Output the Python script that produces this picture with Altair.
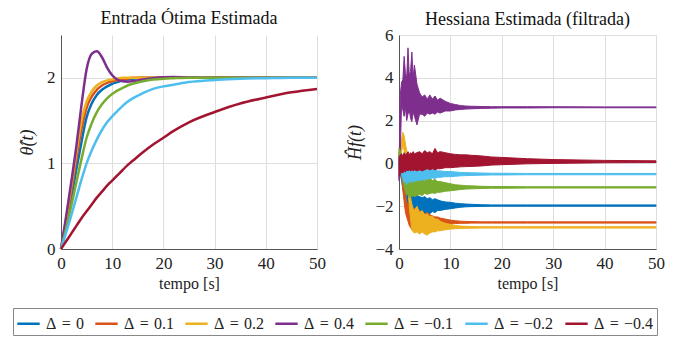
import altair as alt
import pandas as pd

# ---------------- data ----------------
SP = "\u2004"
labels = [f"Δ{SP}={SP}0", f"Δ{SP}={SP}0.1", f"Δ{SP}={SP}0.2", f"Δ{SP}={SP}0.4",
          f"Δ{SP}={SP}−0.1", f"Δ{SP}={SP}−0.2", f"Δ{SP}={SP}−0.4"]
colors = ["#0072BD", "#D95319", "#EDB120", "#7E2F8E", "#77AC30", "#4DBEEE", "#A2142F"]

# Left panel: estimated optimal input
t_left = [0, 1, 2, 3, 4, 5, 6, 7, 8, 9, 10, 11, 12, 13, 14, 16, 18, 20, 22, 25, 30, 35, 40, 45, 50]
theta_d0 = [0, 0.28, 0.60, 0.93, 1.25, 1.54, 1.70, 1.80, 1.86, 1.90, 1.93, 1.95, 1.97, 1.98, 1.99, 2.0, 2.0, 2.0, 2.0, 2.0, 2.0, 2.0, 2.0, 2.0, 2.0]
theta_d01 = [0, 0.32, 0.68, 1.05, 1.40, 1.65, 1.78, 1.86, 1.91, 1.94, 1.96, 1.97, 1.98, 1.99, 2.0, 2.0, 2.0, 2.0, 2.0, 2.0, 2.0, 2.0, 2.0, 2.0, 2.0]
theta_d02 = [0, 0.35, 0.74, 1.13, 1.50, 1.72, 1.84, 1.91, 1.95, 1.97, 1.98, 1.99, 2.0, 2.0, 2.0, 2.0, 2.0, 2.0, 2.0, 2.0, 2.0, 2.0, 2.0, 2.0, 2.0]
theta_d04 = [0, 0.38, 0.78, 1.20, 1.68, 2.10, 2.28, 2.31, 2.24, 2.12, 2.03, 1.98, 1.96, 1.955, 1.96, 1.98, 1.995, 2.005, 2.008, 2.003, 2.0, 2.0, 2.0, 2.0, 2.0]
theta_dm01 = [0, 0.24, 0.50, 0.78, 1.05, 1.30, 1.47, 1.60, 1.69, 1.76, 1.81, 1.85, 1.88, 1.91, 1.93, 1.96, 1.98, 1.99, 1.995, 2.0, 2.0, 2.0, 2.0, 2.0, 2.0]
theta_dm02 = [0, 0.19, 0.39, 0.60, 0.81, 1.00, 1.15, 1.28, 1.39, 1.48, 1.55, 1.61, 1.67, 1.72, 1.76, 1.82, 1.87, 1.90, 1.92, 1.95, 1.975, 1.99, 1.995, 2.0, 2.0]
theta_dm04 = [0, 0.09, 0.18, 0.27, 0.36, 0.44, 0.52, 0.60, 0.67, 0.74, 0.80, 0.86, 0.92, 0.98, 1.03, 1.13, 1.22, 1.30, 1.38, 1.48, 1.60, 1.70, 1.77, 1.83, 1.87]

# Right panel: filtered Hessian estimate, oscillation envelope (low / high)
t_right = [0, 0.25, 0.5, 0.75, 1, 1.25, 1.5, 1.75, 2, 2.25, 2.5, 2.75, 3, 3.5, 4, 4.5, 5, 5.5,
           6, 6.5, 7, 7.5, 8, 9, 10, 11, 12, 13, 14, 16, 18, 20, 25, 30, 40, 50]
h_d0_hi = [0.2, 0.0, -0.3, -0.6, -0.8, -1.0, -1.2, -1.3, -1.4, -1.5, -1.4, -1.55, -1.45, -1.5, -1.55, -1.6, -1.55, -1.65,
           -1.6, -1.7, -1.65, -1.7, -1.75, -1.8, -1.82, -1.86, -1.88, -1.9, -1.91, -1.93, -1.94, -1.94, -1.94, -1.94, -1.94, -1.94]
h_d0_lo = [-0.2, -0.5, -0.8, -1.2, -1.6, -1.9, -2.1, -2.2, -2.4, -2.3, -2.45, -2.35, -2.4, -2.35, -2.4, -2.3, -2.35, -2.3,
           -2.35, -2.25, -2.3, -2.2, -2.2, -2.15, -2.12, -2.08, -2.05, -2.03, -2.02, -2.01, -2.0, -2.0, -2.0, -2.0, -2.0, -2.0]
h_d01_hi = [0.5, 0.6, 0.3, -0.2, -0.8, -1.4, -1.8, -1.9, -2.0, -2.1, -2.05, -2.2, -2.1, -2.25, -2.2, -2.3, -2.35, -2.3,
            -2.4, -2.45, -2.5, -2.5, -2.55, -2.6, -2.65, -2.68, -2.7, -2.71, -2.72, -2.73, -2.73, -2.73, -2.73, -2.73, -2.73, -2.73]
h_d01_lo = [0.0, -0.2, -0.6, -1.2, -1.8, -2.3, -2.5, -2.7, -2.9, -3.0, -3.1, -3.0, -3.15, -3.05, -3.1, -3.0, -3.05, -3.0,
            -3.0, -2.95, -2.95, -2.9, -2.9, -2.85, -2.83, -2.81, -2.8, -2.8, -2.79, -2.79, -2.79, -2.79, -2.79, -2.79, -2.79, -2.79]
h_d02_hi = [0.3, 0.6, 1.1, 1.45, 1.3, 0.9, 0.6, -0.3, -1.0, -1.6, -1.9, -2.1, -2.2, -2.0, -2.3, -2.2, -2.4, -2.35,
            -2.5, -2.45, -2.6, -2.6, -2.7, -2.8, -2.85, -2.9, -2.93, -2.94, -2.95, -2.96, -2.96, -2.96, -2.96, -2.96, -2.96, -2.96]
h_d02_lo = [0.0, 0.2, 0.5, 0.9, 0.6, 0.2, -0.5, -1.2, -2.0, -2.6, -3.1, -3.2, -3.25, -3.2, -3.3, -3.2, -3.3, -3.35,
            -3.25, -3.2, -3.2, -3.15, -3.15, -3.1, -3.07, -3.05, -3.04, -3.03, -3.03, -3.02, -3.02, -3.02, -3.02, -3.02, -3.02, -3.02]
h_d04_hi = [-0.3, 3.2, 3.8, 3.9, 5.0, 4.2, 4.0, 5.4, 4.1, 4.3, 5.2, 4.0, 4.6, 3.7, 3.3, 3.1, 3.2, 3.0,
            3.2, 3.0, 3.15, 2.95, 3.05, 2.9, 2.8, 2.75, 2.7, 2.68, 2.67, 2.66, 2.65, 2.65, 2.65, 2.65, 2.64, 2.64]
h_d04_lo = [-0.8, 0.5, 2.8, 2.5, 2.2, 2.6, 2.0, 2.3, 2.5, 2.1, 1.95, 2.4, 2.2, 1.8, 2.3, 2.3, 2.2, 2.35,
            2.3, 2.35, 2.3, 2.4, 2.35, 2.45, 2.45, 2.5, 2.52, 2.54, 2.55, 2.57, 2.58, 2.59, 2.59, 2.6, 2.6, 2.6]
h_dm01_hi = [0.7, 0.6, 0.3, 0.0, -0.3, -0.5, -0.4, -0.6, -0.5, -0.6, -0.55, -0.65, -0.55, -0.7, -0.6, -0.7, -0.65, -0.75,
             -0.7, -0.8, -0.75, -0.85, -0.85, -0.9, -0.95, -1.0, -1.02, -1.04, -1.05, -1.07, -1.08, -1.08, -1.09, -1.09, -1.09, -1.09]
h_dm01_lo = [0.3, 0.0, -0.4, -0.8, -1.1, -1.3, -1.5, -1.4, -1.6, -1.5, -1.55, -1.5, -1.55, -1.5, -1.45, -1.5, -1.4, -1.45,
             -1.4, -1.38, -1.4, -1.35, -1.35, -1.3, -1.28, -1.25, -1.22, -1.2, -1.19, -1.17, -1.16, -1.16, -1.15, -1.15, -1.15, -1.15]
h_dm02_hi = [0.3, 0.4, 0.3, 0.1, 0.0, -0.1, 0.0, -0.15, -0.1, -0.2, -0.1, -0.2, -0.15, -0.2, -0.2, -0.25, -0.2, -0.3,
             -0.25, -0.3, -0.3, -0.35, -0.35, -0.38, -0.38, -0.4, -0.42, -0.43, -0.44, -0.45, -0.46, -0.46, -0.47, -0.47, -0.47, -0.47]
h_dm02_lo = [-0.2, -0.3, -0.5, -0.7, -0.9, -0.8, -1.0, -0.85, -0.9, -0.8, -0.9, -0.8, -0.85, -0.8, -0.8, -0.75, -0.8, -0.7,
             -0.72, -0.68, -0.7, -0.65, -0.65, -0.62, -0.62, -0.6, -0.58, -0.57, -0.56, -0.55, -0.54, -0.54, -0.53, -0.53, -0.53, -0.53]
h_dm04_hi = [0.3, 0.4, 0.45, 0.35, 0.5, 0.4, 0.45, 0.55, 0.4, 0.5, 0.45, 0.55, 0.45, 0.5, 0.55, 0.45, 0.6, 0.5,
             0.55, 0.45, 0.7, 0.5, 0.55, 0.5, 0.45, 0.42, 0.4, 0.4, 0.38, 0.35, 0.3, 0.28, 0.22, 0.18, 0.14, 0.12]
h_dm04_lo = [-0.6, -0.5, -0.4, -0.45, -0.35, -0.4, -0.3, -0.35, -0.3, -0.35, -0.3, -0.35, -0.3, -0.35, -0.3, -0.35, -0.3, -0.25,
             -0.3, -0.25, -0.3, -0.25, -0.25, -0.2, -0.2, -0.18, -0.16, -0.15, -0.14, -0.12, -0.08, -0.06, -0.02, 0.0, 0.03, 0.04]

# ---------------- tables ----------------
left_series = [theta_d0, theta_d01, theta_d02, theta_d04, theta_dm01, theta_dm02, theta_dm04]
right_hi = [h_d0_hi, h_d01_hi, h_d02_hi, h_d04_hi, h_dm01_hi, h_dm02_hi, h_dm04_hi]
right_lo = [h_d0_lo, h_d01_lo, h_d02_lo, h_d04_lo, h_dm01_lo, h_dm02_lo, h_dm04_lo]

left_rows = []
for lab, vals in zip(labels, left_series):
    for t, v in zip(t_left, vals):
        left_rows.append({"t": t, "v": v, "series": lab})
df_left = pd.DataFrame(left_rows)

right_rows = []
for lab, hi, lo in zip(labels, right_hi, right_lo):
    for t, h, l in zip(t_right, hi, lo):
        right_rows.append({"t": t, "hi": h, "lo": l, "series": lab})
df_right = pd.DataFrame(right_rows)

SERIF = "Liberation Serif"

color = alt.Color(
    "series:N",
    scale=alt.Scale(domain=labels, range=colors),
    legend=alt.Legend(
        title=None,
        orient="none",
        legendX=-48,
        legendY=273,
        direction="horizontal",
        symbolType="stroke",
        symbolSize=500,
        symbolStrokeWidth=2.5,
        labelFont=SERIF,
        labelFontSize=16,
        labelColor="#222",
        labelOffset=5,
        columnPadding=6,
        strokeColor="#888",
        padding=3,
    ),
)

x_axis = alt.Axis(values=[0, 10, 20, 30, 40, 50], title="tempo [s]", format="d", labelFlush=False)

left = alt.Chart(df_left, title=alt.TitleParams("Entrada Ótima Estimada", offset=7)).mark_line(
    strokeWidth=2.5, interpolate="monotone"
).encode(
    x=alt.X("t:Q", scale=alt.Scale(domain=[0, 50], nice=False), axis=x_axis),
    y=alt.Y("v:Q", scale=alt.Scale(domain=[0, 2.5], nice=False),
            axis=alt.Axis(values=[0, 1, 2], title="θ̂(t)", titleFontStyle="italic")),
    color=color,
).properties(width=256, height=214)

right = alt.Chart(df_right, title=alt.TitleParams("Hessiana Estimada (filtrada)", offset=-3)).mark_area(
    strokeWidth=1.0, opacity=1
).encode(
    x=alt.X("t:Q", scale=alt.Scale(domain=[0, 50], nice=False), axis=x_axis),
    y=alt.Y("lo:Q", scale=alt.Scale(domain=[-4, 6], nice=False),
            axis=alt.Axis(values=[-4, -2, 0, 2, 4, 6], title="Ĥf(t)", titleFontStyle="italic")),
    y2="hi:Q",
    color=color,
    stroke=alt.Stroke("series:N", scale=alt.Scale(domain=labels, range=colors), legend=None),
).properties(width=257, height=214)

chart = alt.hconcat(left, right, spacing=82, bounds="flush").properties(
    padding={"left": 4, "top": 2, "right": 4, "bottom": 0}
).configure_view(stroke=None).configure_axis(
    grid=True,
    gridColor="#dedede",
    gridWidth=1,
    domainColor="#555",
    domainWidth=1,
    ticks=False,
    labelFont=SERIF,
    labelFontSize=17,
    labelColor="#222",
    labelPadding=6,
    titleFont=SERIF,
    titleFontSize=16,
    titleFontWeight="normal",
    titleColor="#222",
).configure_axisY(
    titleFontSize=18,
    titlePadding=10,
).configure_axisX(
    titlePadding=4,
).configure_title(
    font=SERIF,
    fontSize=18,
    fontWeight="normal",
    color="#111",
    anchor="middle",
)

chart.save("out.html", embed_options={"renderer": "svg", "actions": False})
